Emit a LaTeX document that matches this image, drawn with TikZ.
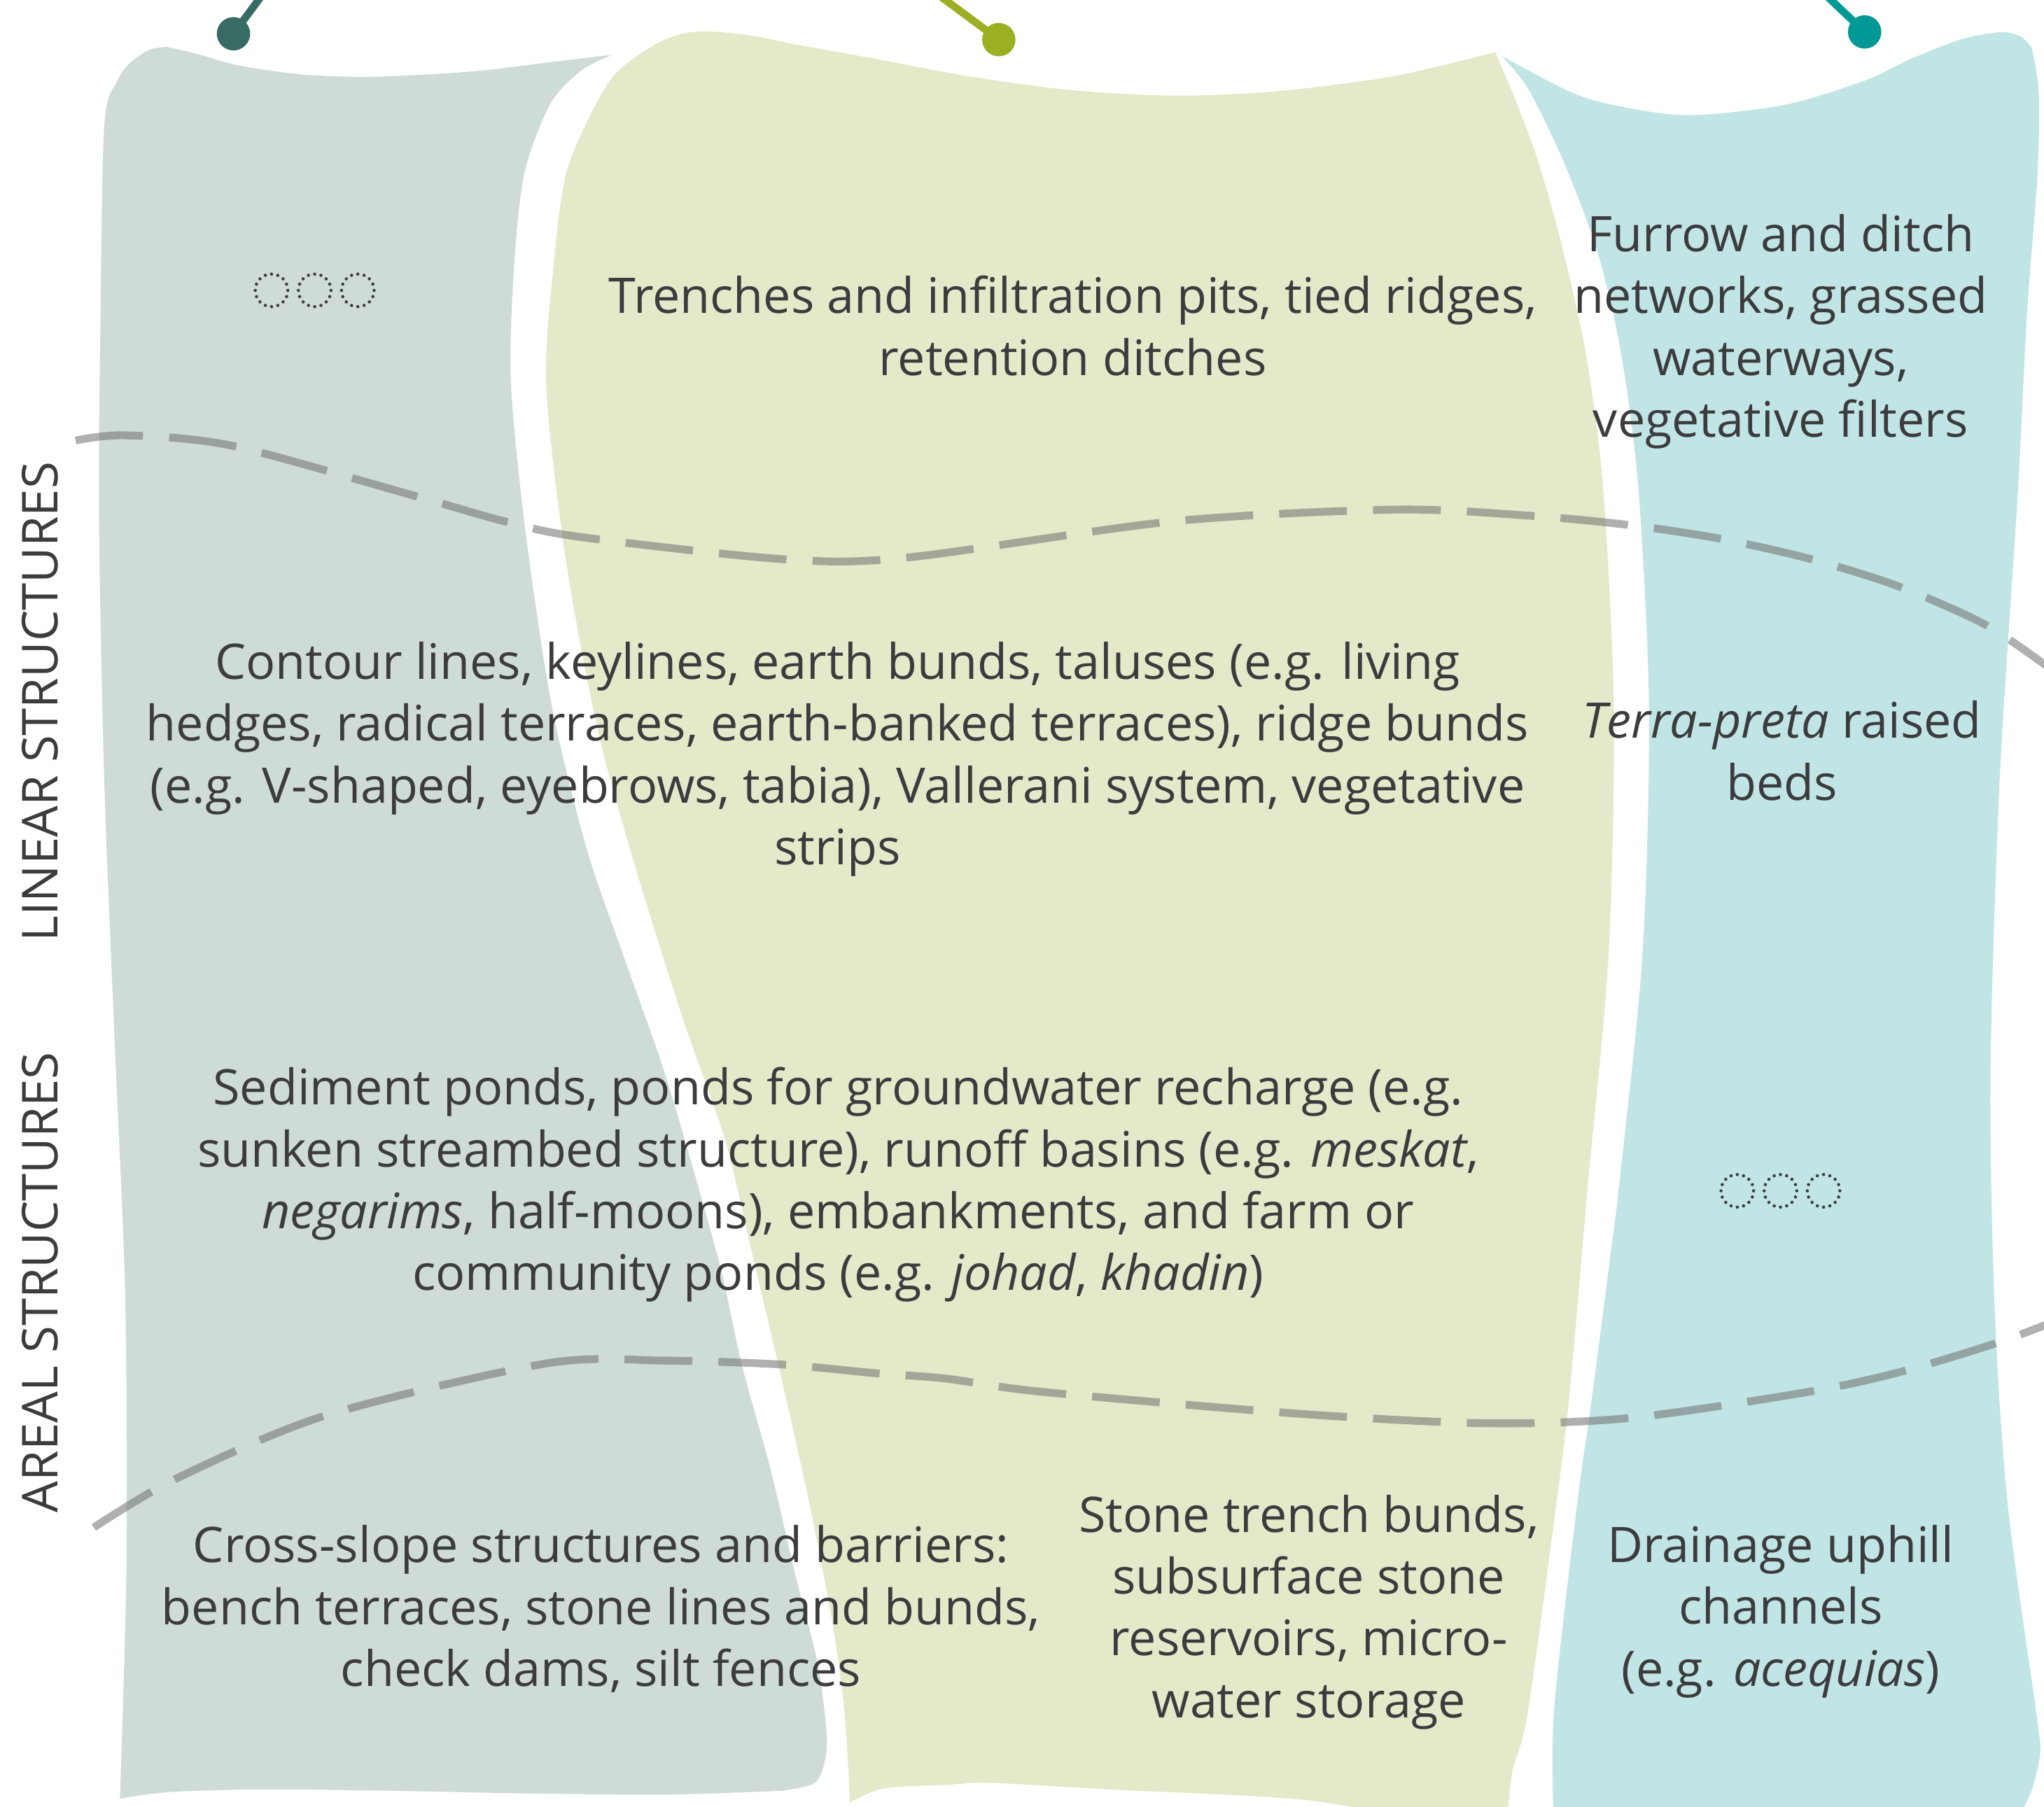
\documentclass[tikz,border=0pt]{standalone}
\usepackage{fontspec}
\setmainfont{Open Sans}
\usetikzlibrary{positioning}
\definecolor{bandgrey}{HTML}{CEDBD9}
\definecolor{bandgreen}{HTML}{E5E9C9}
\definecolor{bandcyan}{HTML}{C0E5E4}
\definecolor{pindark}{HTML}{376B63}
\definecolor{pinmoss}{HTML}{9CAF22}
\definecolor{pinsea}{HTML}{009996}
\definecolor{ink}{HTML}{3C3C3E}
\definecolor{dashgrey}{HTML}{707070}

\begin{document}
\begin{tikzpicture}[x=0.02cm, y=-0.02cm,
    txt/.style={font=\fontsize{21.4}{27}\selectfont, text=ink, align=center, inner sep=0pt},
    rowlabel/.style={font=\fontsize{21.6}{26}\selectfont, text=ink, rotate=90, inner sep=0pt},
    ring/.style={circle, draw=ink, line width=1.4pt, dash pattern=on 0pt off 2.79pt, line cap=round, minimum size=0.5cm, inner sep=0pt, outer sep=0pt},
    pindot/.style={circle, minimum size=0.512cm, inner sep=0pt},
    pinline/.style={line width=3.3pt},
    divider/.style={draw=dashgrey, draw opacity=0.55, line width=3.4pt, dash pattern=on 29.6pt off 11.4pt}]

    \useasboundingbox (0,0) rectangle (1568,1386);
    \clip (0,0) rectangle (1568,1386);

    % bands
    \fill[bandgrey] plot[smooth] coordinates {(128,36) (150,41) (182,50) (230,57) (278,59) (330,57) (374,53.7) (420,48) (470,42)}
        -- plot[smooth] coordinates {(470,42) (446,54) (422,80) (402,134) (394,210) (392,295) (403,407) (423,540) (450,651) (481,741) (512,830) (551,966) (569,1047) (591,1127) (610,1208) (627,1275) (634,1328) (633,1350) (625,1368) (600,1374)}
        -- plot[smooth] coordinates {(600,1374) (510,1377) (400,1376) (300,1374) (200,1373) (130,1375) (92,1380)}
        -- plot[smooth] coordinates {(92,1380) (97,1200) (96,993) (88,800) (80,600) (76,400) (77,250) (80,96) (90,62) (100,48) (115,38) (128,36)} -- cycle;
    \fill[bandgreen] plot[smooth] coordinates {(545,24) (575,27) (610,34) (671,45) (740,58) (820,69) (902,73.4) (980,70) (1060,60) (1101,51.4) (1147,40)}
        -- plot[smooth] coordinates {(1147,40) (1163.5,79) (1181,127) (1199,192) (1217,274) (1230,377) (1238,545) (1234,732) (1218,910) (1204,1070) (1194,1153) (1172,1314) (1160,1360) (1156,1400)}
        -- (1110,1400)
        -- plot[smooth] coordinates {(1110,1400) (1000,1381) (850,1373) (760,1368) (725,1369.6) (689,1371) (671,1374) (652,1383)}
        -- plot[smooth] coordinates {(652,1383) (648,1315) (639,1248) (621,1154) (600,1060) (578,966) (556,874) (525,785) (490,674) (459,562) (434,429) (419,295) (425,200) (434,134) (452,90) (470,59) (490,42) (510,30.4) (528,25) (545,24)} -- cycle;
    \fill[bandcyan] plot[smooth] coordinates {(1152,43) (1208,72) (1250,83) (1298,88.4) (1369,80.5) (1430,62) (1467,44.7) (1505,30) (1534.6,24.7) (1550,28) (1558.6,36.7)}
        -- plot[smooth] coordinates {(1558.6,36.7) (1564,71.6) (1563,134) (1555,240) (1548,376) (1534,598) (1527,821) (1530,1000) (1540,1153) (1562,1314) (1565,1345) (1558,1375) (1545,1400)}
        -- (1192,1400)
        -- plot[smooth] coordinates {(1192,1400) (1192,1314) (1210,1153) (1221,1074) (1235,966) (1242,910) (1260,732) (1265,545) (1257,377) (1244,274) (1226,195) (1199,123) (1172.5,68.5) (1152,43)} -- cycle;

    % dashed dividers
    \draw[divider] plot[smooth] coordinates {(58,338) (96,334) (178,342) (320,381) (387,400) (445,412) (600,429) (694,428) (900,400) (1070,391) (1172,395.6) (1246,402.4) (1316,412.7) (1387,428.4) (1455,449.4) (1521,478.3) (1568,509.5) (1600,535)};
    \draw[divider] plot[smooth] coordinates {(72,1172) (135,1134.6) (250,1086) (420,1046) (510,1044) (600,1047) (671,1053.6) (725,1057.7) (800,1068) (1000,1085) (1140,1092) (1250,1088) (1387,1068) (1458,1052.6) (1527,1032) (1568,1017) (1600,1003)};

    % placeholder rings
    \node[ring] (ringA1) at (208.3,222.8) {};
    \node[ring, right=0.162cm of ringA1] (ringA2) {};
    \node[ring, right=0.162cm of ringA2] (ringA3) {};
    \node[ring] (ringB1) at (1332.7,913.7) {};
    \node[ring, right=0.162cm of ringB1] (ringB2) {};
    \node[ring, right=0.162cm of ringB2] (ringB3) {};

    % texts
    \node[txt] (trench) at (823,250) {Trenches and infiltration pits, tied ridges,\\retention ditches};
    \node[txt] (furrow) at (1366,254.5) {Furrow and ditch\\networks, grassed\\waterways,\\vegetative filters};
    \node[txt] (contour) at (642.5,582.5) {Contour lines, keylines, earth bunds, taluses (e.g. living\\hedges, radical terraces, earth-banked terraces), ridge bunds\\(e.g. V-shaped, eyebrows, tabia), Vallerani system, vegetative\\strips};
    \node[txt] (terra) at (1367,576) {\textit{Terra-preta} raised\\beds};
    \node[txt] (sediment) at (643,909) {Sediment ponds, ponds for groundwater recharge (e.g.\\sunken streambed structure), runoff basins (e.g. \textit{meskat},\\\textit{negarims}, half-moons), embankments, and farm or\\community ponds (e.g. \textit{johad}, \textit{khadin})};
    \node[txt] (crossslope) at (461,1234.5) {Cross-slope structures and barriers:\\bench terraces, stone lines and bunds,\\check dams, silt fences};
    \node[txt] (stone) at (1004,1237) {Stone trench bunds,\\subsurface stone\\reservoirs, micro-\\water storage};
    \node[txt] (drainage) at (1366,1236.5) {Drainage uphill\\channels\\(e.g. \textit{acequias})};

    \node[rowlabel] (linear) at (30.7,538.5) {LINEAR STRUCTURES};
    \node[rowlabel] (areal) at (30.7,984) {AREAL STRUCTURES};

    % pins
    \node[pindot, fill=pindark] (pinA) at (179.1,25.9) {};
    \node[pindot, fill=pinmoss] (pinB) at (766.2,30.4) {};
    \node[pindot, fill=pinsea] (pinC) at (1430.4,24.5) {};
    \coordinate (pinAtop) at (202,-5);
    \coordinate (pinBtop) at (718.5,-5);
    \coordinate (pinCtop) at (1399.3,-5);
    \draw[pinline, pindark] (pinAtop) -- (pinA.center);
    \draw[pinline, pinmoss] (pinBtop) -- (pinB.center);
    \draw[pinline, pinsea] (pinCtop) -- (pinC.center);
\end{tikzpicture}
\end{document}
